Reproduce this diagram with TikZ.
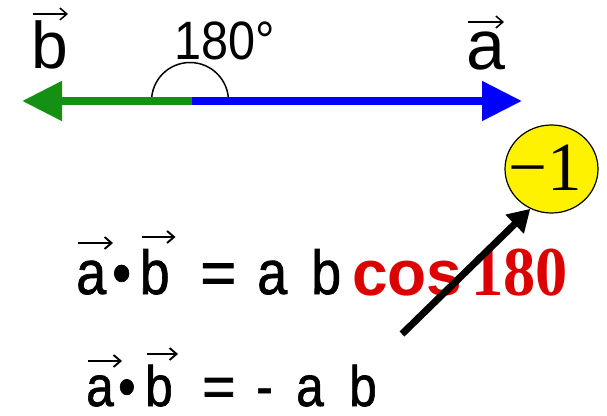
\documentclass[tikz,border=0pt]{standalone}
\usepackage{fontspec}
\setmainfont{Liberation Sans}
\newfontfamily\seriffont{Liberation Serif}
\newfontfamily\eqfont[FakeBold=1.2]{Liberation Sans}
\usetikzlibrary{arrows.meta,shapes.geometric,calc}
\definecolor{vgreen}{RGB}{20,145,20}
\definecolor{vblue}{RGB}{0,0,255}
\definecolor{vred}{RGB}{221,0,0}
\newcommand\sqz[2][0.87]{\scalebox{#1}[1]{#2}}
\begin{document}
\begin{tikzpicture}[x=1pt,y=1pt,
  txt/.style={inner sep=0pt, anchor=base west},
  eqA/.style={txt, font=\eqfont\fontsize{62}{62}\selectfont},
  eqB/.style={txt, font=\eqfont\fontsize{57}{57}\selectfont},
  vecar/.style={line width=1.9pt, -{Straight Barb[length=7pt,width=12pt]}},
  vecline/.style={line width=8pt, -{Triangle[length=40pt,width=38pt]}},
  bigarrow/.style={line width=7pt, -{Triangle[length=22pt,width=25pt]}},
]
\useasboundingbox (0,0) rectangle (607,415);

% angle arc
\coordinate (o) at (192,314);
\coordinate (btip) at (22,314);
\coordinate (atip) at (522,314);
\draw[line width=1.5pt] (228.5,314) arc (0:180:38.5);
\draw[vecline, vgreen] (o) -- (btip);
\draw[vecline, vblue] (o) -- (atip);

% top labels
\node[txt, font=\fontsize{66}{66}\selectfont] (bt) at (31,346) {b};
\draw[vecar, line width=1.5pt] ([shift={(2,55)}]bt.base west) -- ([shift={(37,55)}]bt.base west);
\node[txt, font=\fontsize{70}{70}\selectfont] (at) at (466,345) {a};
\draw[vecar, line width=1.5pt] ([shift={(2,48)}]at.base west) -- ([shift={(38,48)}]at.base west);
\node[txt, font=\fontsize{54}{54}\selectfont] (ang) at (174,355) {\sqz[0.9]{180°}};

% yellow circle
\node[ellipse, draw, line width=1.2pt, fill=yellow, minimum width=93pt, minimum height=88pt, inner sep=0pt] (circ) at (551.5,246) {};
\node[inner sep=0pt, font=\seriffont\fontsize{69}{69}\selectfont] (m1) at ([xshift=-6pt,yshift=1pt]circ.center) {−1};

% equation line 1
\node[eqA] (a1) at (76,121) {\sqz{a}};
\draw[vecar] ([shift={(2,51)}]a1.base west) -- ([shift={(37,51)}]a1.base west);
\node[eqA] (d1) at (112,121) {\sqz{•}};
\node[eqA] (b1) at (139.5,121) {\sqz{b}};
\draw[vecar] ([shift={(2.5,57)}]b1.base west) -- ([shift={(36,57)}]b1.base west);
\node[eqA] (e1) at (200,121) {=};
\node[eqA] (a2) at (257,121) {\sqz{a}};
\node[eqA] (b2) at (311,121) {\sqz{b}};
\node[txt, font=\bfseries\fontsize{64}{64}\selectfont, text=vred] (cos) at (352,120) {cos};
\node[txt, font=\seriffont\bfseries\fontsize{70}{70}\selectfont, text=vred] (n180) at (471,119) {\sqz[0.92]{180}};

% equation line 2
\node[eqB] (a3) at (86,9) {\sqz{a}};
\draw[vecar] ([shift={(2,45)}]a3.base west) -- ([shift={(36,45)}]a3.base west);
\node[eqB] (d2) at (118,9) {\sqz{•}};
\node[eqB] (b3) at (145,9) {\sqz{b}};
\draw[vecar] ([shift={(2,52)}]b3.base west) -- ([shift={(33,52)}]b3.base west);
\node[eqB] (e2) at (202,9) {=};
\node[eqB] (m2) at (256,9) {\sqz{-}};
\node[eqB] (a4) at (296,9) {\sqz{a}};
\node[eqB] (b4) at (349,9) {\sqz{b}};

% pointer arrow
\coordinate (ps) at (402,81);
\draw[bigarrow] (ps) -- (circ.242);
\end{tikzpicture}
\end{document}
